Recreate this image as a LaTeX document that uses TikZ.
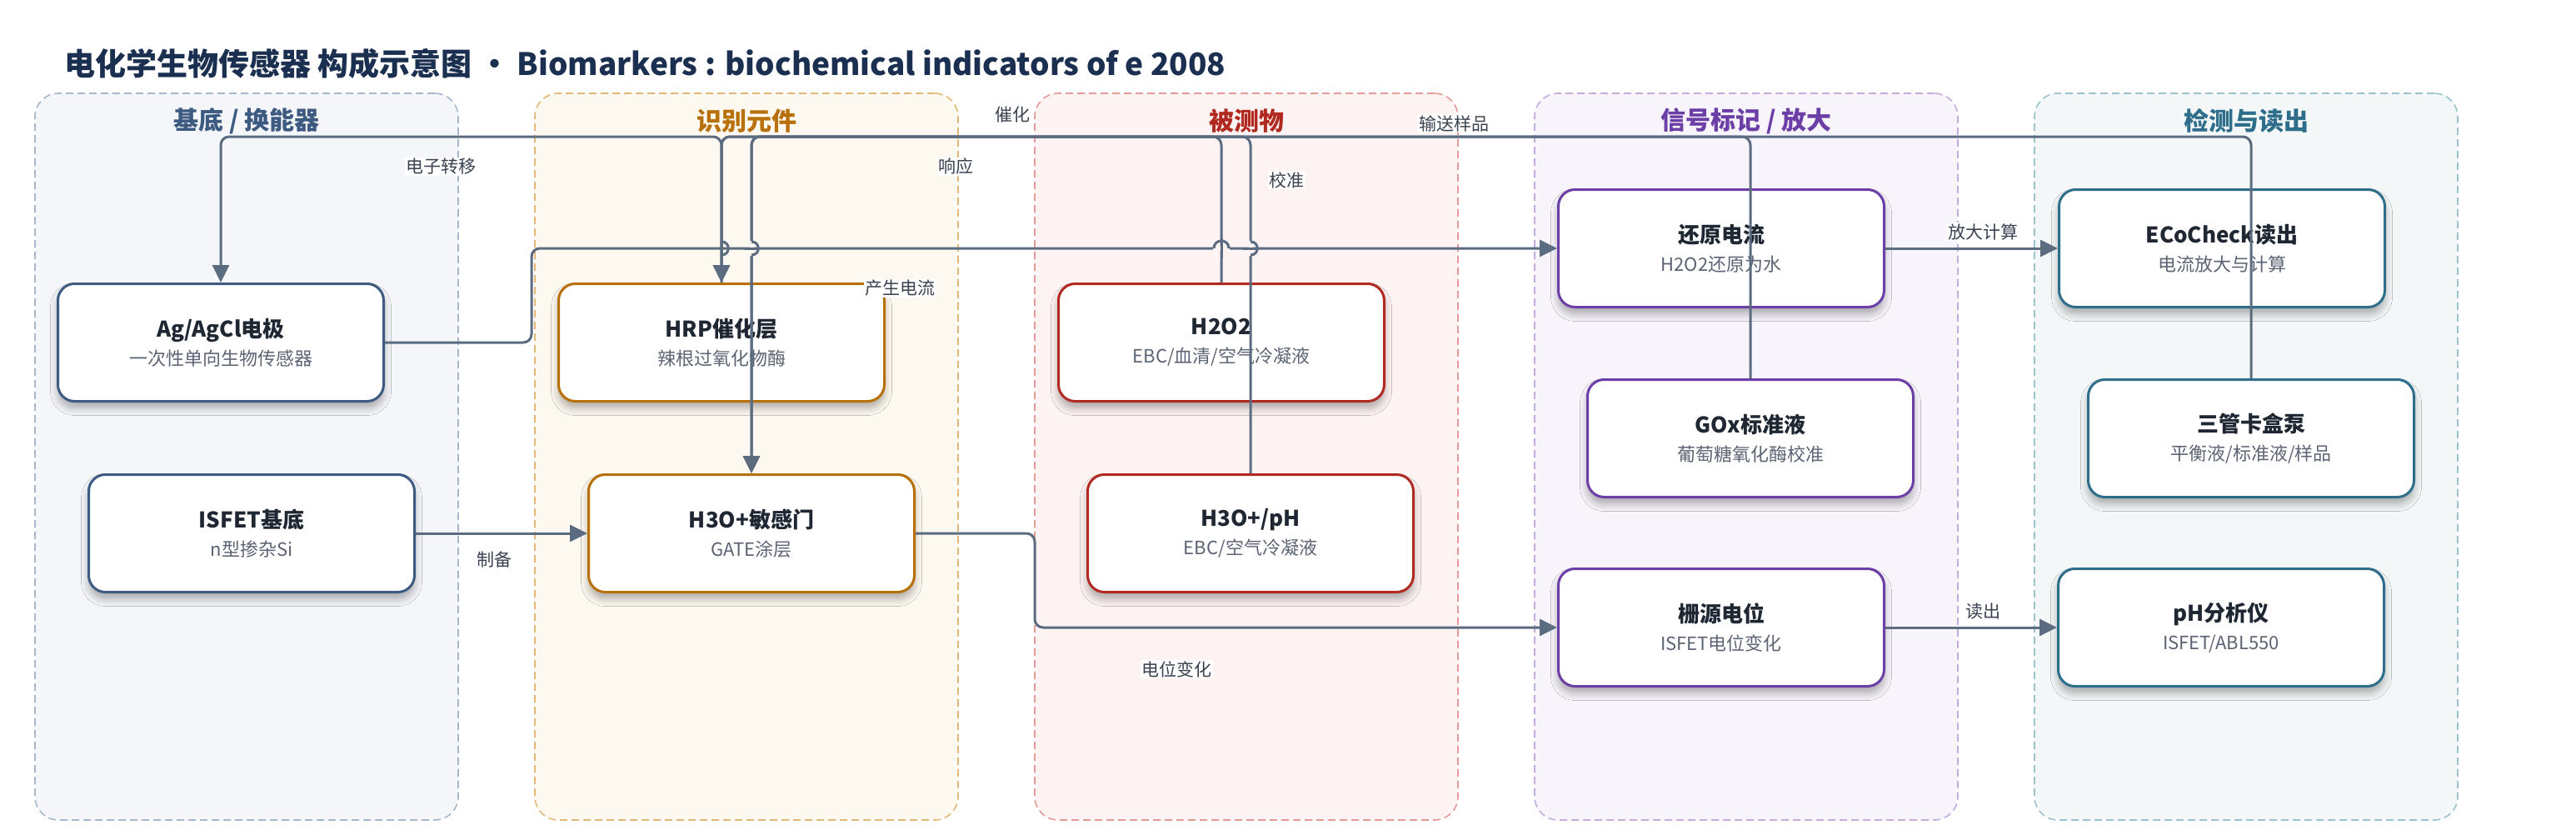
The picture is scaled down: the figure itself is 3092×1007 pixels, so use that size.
\documentclass[tikz,border=0pt]{standalone}
\usepackage{fontspec}
\setmainfont{Noto Sans CJK SC}
\usetikzlibrary{arrows.meta,shadows.blur}
\definecolor{edgec}{HTML}{5B6B80}
\definecolor{titlec}{HTML}{1B3050}
\definecolor{ntitle}{HTML}{1F2733}
\definecolor{nsub}{HTML}{5C6473}
\definecolor{elab}{HTML}{3A4250}
\definecolor{fA}{HTML}{F4F6FA}\definecolor{bA}{HTML}{A8B8CC}\definecolor{cA}{HTML}{3D5A80}
\definecolor{fB}{HTML}{FEF9F0}\definecolor{bB}{HTML}{E2B878}\definecolor{cB}{HTML}{B8700A}
\definecolor{fC}{HTML}{FDF3F2}\definecolor{bC}{HTML}{E49A96}\definecolor{cC}{HTML}{B02A22}
\definecolor{fD}{HTML}{F7F4FB}\definecolor{bD}{HTML}{C4ACDC}\definecolor{cD}{HTML}{6C3FA6}
\definecolor{fE}{HTML}{F3F7F8}\definecolor{bE}{HTML}{9CC2CE}\definecolor{cE}{HTML}{2E6E8A}
\newcommand{\nt}[2]{{\fontsize{26}{34}\selectfont\bfseries\color{ntitle}#1}\\{\fontsize{22}{34}\selectfont\color{nsub}#2}}
\begin{document}
\begin{tikzpicture}[x=1pt,y=-1pt,
  lane/.style={dashed, dash pattern=on 9pt off 5pt, line width=1.6pt, rounded corners=28pt, minimum width=508pt, minimum height=872pt, inner sep=0pt},
  lanetitle/.style={font=\fontsize{30}{34}\selectfont\bfseries, inner sep=0pt},
  box/.style={line width=3pt, rounded corners=20pt, fill=white, minimum width=391pt, minimum height=141pt, align=center, inner sep=0pt, font=\fontsize{22}{34}\selectfont,
    blur shadow={shadow xshift=0pt, shadow yshift=-8pt, shadow blur radius=9pt, shadow opacity=32, shadow blur steps=6}},
  edge/.style={draw=edgec, line width=3pt, rounded corners=10pt},
  arr/.style={edge, -{Triangle[length=21pt,width=20pt]}},
  elabel/.style={fill=white, text=elab, inner sep=1.5pt, font=\fontsize{21}{24}\selectfont},
  hop/.style={draw=edgec, line width=3pt}
]
\useasboundingbox[fill=white] (0,0) rectangle (3092,1007);

% title
\node[anchor=west, text=titlec, inner sep=0pt, font=\fontsize{37}{42}\selectfont\bfseries] (title) at (77,76) {电化学生物传感器 构成示意图 • Biomarkers : biochemical indicators of e 2008};

% lanes
\node[lane, draw=bA, fill=fA] (LA) at (296,548) {};
\node[lane, draw=bB, fill=fB] (LB) at (896,548) {};
\node[lane, draw=bC, fill=fC] (LC) at (1496,548) {};
\node[lane, draw=bD, fill=fD] (LD) at (2096,548) {};
\node[lane, draw=bE, fill=fE] (LE) at (2696,548) {};
\node[lanetitle, text=cA] (LAt) at (296,145) {基底 / 换能器};
\node[lanetitle, text=cB] (LBt) at (896,145) {识别元件};
\node[lanetitle, text=cC] (LCt) at (1496,145) {被测物};
\node[lanetitle, text=cD] (LDt) at (2096,145) {信号标记 / 放大};
\node[lanetitle, text=cE] (LEt) at (2696,145) {检测与读出};

% nodes
\node[box, draw=cA] (ag) at (265,411) {\nt{Ag/AgCl电极}{一次性单向生物传感器}};
\node[box, draw=cA] (isfet) at (302,640) {\nt{ISFET基底}{n型掺杂Si}};
\node[box, draw=cB] (hrp) at (866,411) {\nt{HRP催化层}{辣根过氧化物酶}};
\node[box, draw=cB] (gate) at (902,640) {\nt{H3O+敏感门}{GATE涂层}};
\node[box, draw=cC] (hoo) at (1466,411) {\nt{H2O2}{EBC/血清/空气冷凝液}};
\node[box, draw=cC] (hph) at (1501,640) {\nt{H3O+/pH}{EBC/空气冷凝液}};
\node[box, draw=cD] (red) at (2066,298) {\nt{还原电流}{H2O2还原为水}};
\node[box, draw=cD] (gox) at (2101,526) {\nt{GOx标准液}{葡萄糖氧化酶校准}};
\node[box, draw=cD] (gsd) at (2066,753) {\nt{栅源电位}{ISFET电位变化}};
\node[box, draw=cE] (eco) at (2667,298) {\nt{ECoCheck读出}{电流放大与计算}};
\node[box, draw=cE] (pump) at (2702,526) {\nt{三管卡盒泵}{平衡液/标准液/样品}};
\node[box, draw=cE] (ph) at (2666,753) {\nt{pH分析仪}{ISFET/ABL550}};

% helper coordinates
\coordinate (top) at (0,164);
\coordinate (c6) at (638,298);
\coordinate (c8) at (1242,753);

% connectors
\draw[arr] (hrp.north) -- (hrp.north |- top) -- (ag.north |- top) -- (ag.north);
\draw[arr] (hoo.north) -- (hoo.north |- top) -- (hrp.north |- top) -- (hrp.north);
\draw[arr] (hph.north) -- (hph.north |- top) -- (gate.north |- top) -- (gate.north);
\draw[arr] (gox.north) -- (gox.north |- top) -- (hrp.north |- top) -- (hrp.north);
\draw[arr] (pump.north) -- (pump.north |- top) -- (gate.north |- top) -- (gate.north);
\draw[arr] (ag.east) -- (ag.east -| c6) -- (c6) -- (red.west);
\draw[arr] (isfet.east) -- (gate.west);
\draw[arr] (gate.east) -- (gate.east -| c8) -- (c8) -- (gsd.west);
\draw[arr] (red.east) -- (eco.west);
\draw[arr] (gsd.east) -- (ph.west);

% line jumps
\draw[hop] (866,290) .. controls (877,290) and (877,306) .. (866,306);
\fill[fB] (899.5,289) rectangle (904.5,307);
\draw[hop] (893,298) -- (911,298);
\draw[hop] (902,290) .. controls (913,290) and (913,306) .. (902,306);
\fill[fC] (1456,296) rectangle (1476,300.5);
\draw[hop] (1466,286) -- (1466,310);
\draw[hop] (1457,298) .. controls (1457,286) and (1475,286) .. (1475,298);
\fill[fC] (1498.5,289) rectangle (1503.5,307);
\draw[hop] (1492,298) -- (1510,298);
\draw[hop] (1501,290) .. controls (1512,290) and (1512,306) .. (1501,306);

% connector labels
\node[elabel] (l1) at (529,200) {电子转移};
\node[elabel] (l2) at (1215,138) {催化};
\node[elabel] (l3) at (1147,200) {响应};
\node[elabel] (l4) at (1544,216) {校准};
\node[elabel] (l5) at (1745,148) {输送样品};
\node[elabel] (l6) at (1080,346) {产生电流};
\node[elabel] (l7) at (593,671) {制备};
\node[elabel] (l8) at (1412,803) {电位变化};
\node[elabel] (l9) at (2380,278) {放大计算};
\node[elabel] (l10) at (2380,734) {读出};
\end{tikzpicture}
\end{document}
